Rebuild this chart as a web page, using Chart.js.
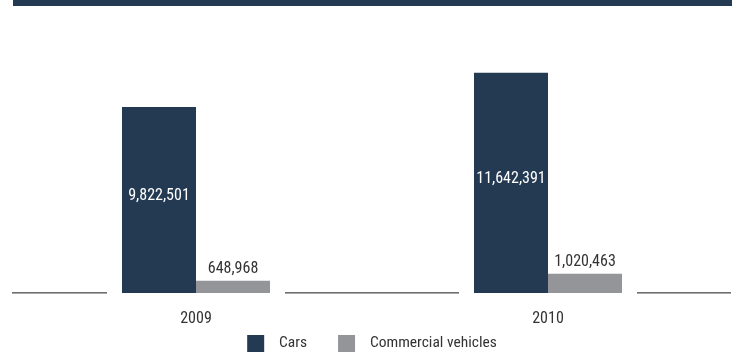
<!DOCTYPE html>
<html>
<head>
<meta charset="utf-8">
<script src="https://cdn.jsdelivr.net/npm/chart.js@4"></script>
<style>
  html, body { margin: 0; padding: 0; background: #ffffff; }
  #wrap { width: 737px; height: 354px; }
</style>
</head>
<body>
<div id="wrap"><canvas id="c" width="737" height="354"></canvas></div>
<script>
const categories = ['2009', '2010'];
const seriesLabels = ['Cars', 'Commercial vehicles'];
const carsValues = [9822501, 11642391];
const commercialValues = [648968, 1020463];
const yMax = 14000000;

const NAVY = '#233a52';
const GRAY = '#939598';
const TEXT = '#333333';
const FONT = '"Roboto Condensed", "Liberation Sans Narrow", "DejaVu Sans Condensed", sans-serif';

const fmt = v => v.toLocaleString('en-US');

const decor = {
  id: 'decor',
  beforeDraw(chart) {
    const ctx = chart.ctx;
    ctx.save();
    ctx.fillStyle = '#ffffff';
    ctx.fillRect(0, 0, chart.width, chart.height);
    ctx.fillStyle = NAVY;
    ctx.fillRect(13, 0, 719, 6);
    ctx.restore();
  },
  afterDatasetsDraw(chart) {
    const ctx = chart.ctx;
    const y = chart.scales.y.getPixelForValue(0);
    const groups = categories.map(() => ({ l: Infinity, r: -Infinity }));
    chart.data.datasets.forEach((ds, di) => {
      chart.getDatasetMeta(di).data.forEach((bar, i) => {
        groups[i].l = Math.min(groups[i].l, bar.x - bar.width / 2);
        groups[i].r = Math.max(groups[i].r, bar.x + bar.width / 2);
      });
    });
    const gap = 15;
    const pts = [12];
    groups.forEach(g => { pts.push(g.l - gap); pts.push(g.r + gap); });
    pts.push(731);
    ctx.save();
    ctx.fillStyle = '#6e6e6e';
    for (let k = 0; k < pts.length; k += 2) {
      ctx.fillRect(pts[k], y - 1, pts[k + 1] - pts[k], 1.6);
    }
    ctx.font = '16px ' + FONT;
    ctx.textAlign = 'center';
    ctx.textBaseline = 'middle';
    chart.getDatasetMeta(0).data.forEach((bar, i) => {
      ctx.fillStyle = '#ffffff';
      ctx.fillText(fmt(carsValues[i]), bar.x, (bar.y + bar.base) / 2 - 4);
    });
    chart.getDatasetMeta(1).data.forEach((bar, i) => {
      ctx.fillStyle = TEXT;
      ctx.fillText(fmt(commercialValues[i]), bar.x, bar.y - 11.5);
    });
    ctx.restore();
  }
};

new Chart(document.getElementById('c'), {
  type: 'bar',
  data: {
    labels: categories,
    datasets: [
      { label: seriesLabels[0], data: carsValues, backgroundColor: NAVY },
      { label: seriesLabels[1], data: commercialValues, backgroundColor: GRAY }
    ]
  },
  options: {
    responsive: false,
    animation: false,
    events: [],
    layout: { padding: { top: 28, left: 20, right: 13, bottom: 0 } },
    datasets: { bar: { categoryPercentage: 0.4205, barPercentage: 1.0 } },
    scales: {
      x: {
        grid: { display: false, drawTicks: false },
        border: { display: false },
        ticks: { color: TEXT, font: { family: FONT, size: 16 }, padding: 16 },
        afterFit(scale) {
          scale.height = 11;
          scale._computeLabelArea = () => undefined;
        }
      },
      y: {
        display: false,
        min: 0,
        max: yMax
      }
    },
    plugins: {
      tooltip: { enabled: false },
      legend: {
        position: 'bottom',
        maxHeight: 50,
        labels: {
          boxWidth: 17,
          boxHeight: 17,
          padding: 31,
          color: TEXT,
          font: { family: FONT, size: 15.5 },
          generateLabels(chart) {
            return chart.data.datasets.map((ds, i) => ({
              text: '  ' + ds.label,
              fillStyle: ds.backgroundColor,
              strokeStyle: ds.backgroundColor,
              lineWidth: 0,
              hidden: false,
              datasetIndex: i,
              fontColor: TEXT
            }));
          }
        }
      }
    }
  },
  plugins: [decor]
});
</script>
</body>
</html>
